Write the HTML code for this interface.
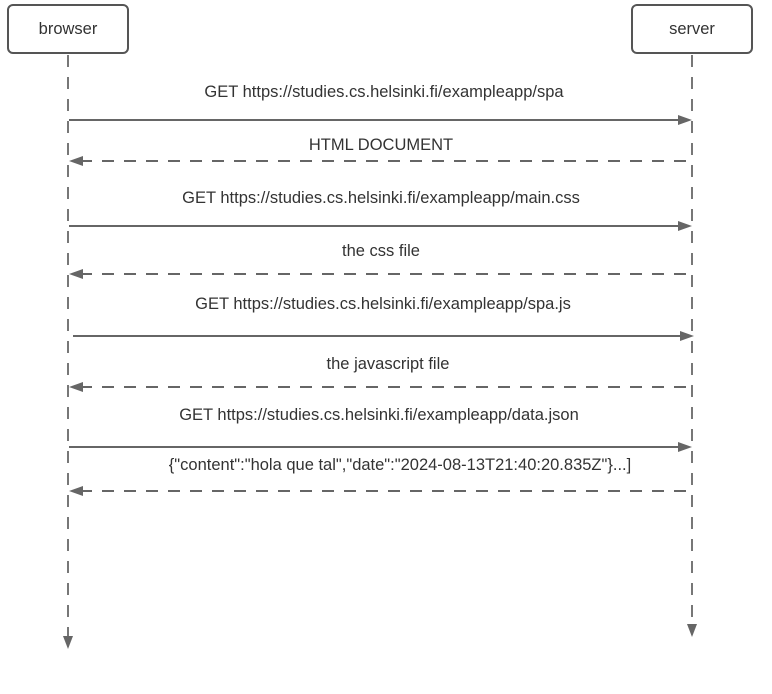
<!DOCTYPE html>
<html><head><meta charset="utf-8"><style>
html,body{margin:0;padding:0;background:#fff;width:772px;height:694px;overflow:hidden}
text{font-family:"Liberation Sans",Arial,sans-serif;font-size:16.5px;fill:#333}
</style></head><body>
<svg width="772" height="694" viewBox="0 0 772 694" xmlns="http://www.w3.org/2000/svg">
<g fill="#fff" stroke="#555" stroke-width="2">
<rect x="8" y="5" width="120" height="48" rx="5"/>
<rect x="632" y="5" width="120" height="48" rx="5"/>
</g>
<text x="68" y="34" text-anchor="middle">browser</text>
<text x="692" y="34" text-anchor="middle">server</text>
<g stroke="#777" stroke-width="2" stroke-dasharray="12 10">
<line x1="68" y1="55" x2="68" y2="638"/>
<line x1="692" y1="55" x2="692" y2="626"/>
</g>
<g fill="#666">
<polygon points="63,636 73,636 68,649"/>
<polygon points="687,624 697,624 692,637"/>
</g>
<g stroke="#666" stroke-width="2">
<line x1="69" y1="120" x2="680" y2="120"/>
<line x1="69" y1="226" x2="680" y2="226"/>
<line x1="73" y1="336" x2="682" y2="336"/>
<line x1="69" y1="447" x2="680" y2="447"/>
</g>
<g stroke="#666" stroke-width="2" stroke-dasharray="12 10">
<polyline fill="none" points="80,161 692,161"/>
<polyline fill="none" points="80,274 692,274"/>
<polyline fill="none" points="80,387 692,387"/>
<polyline fill="none" points="80,491 692,491"/>
</g>
<g fill="#666">
<polygon points="692,120 678,115 678,125"/>
<polygon points="692,226 678,221 678,231"/>
<polygon points="694,336 680,331 680,341"/>
<polygon points="692,447 678,442 678,452"/>
<polygon points="69,161 83,156 83,166"/>
<polygon points="69,274 83,269 83,279"/>
<polygon points="69,387 83,382 83,392"/>
<polygon points="69,491 83,486 83,496"/>
</g>
<text x="384" y="97" text-anchor="middle">GET https://studies.cs.helsinki.fi/exampleapp/spa</text>
<text x="381" y="150" text-anchor="middle">HTML DOCUMENT</text>
<text x="381" y="203" text-anchor="middle">GET https://studies.cs.helsinki.fi/exampleapp/main.css</text>
<text x="381" y="256" text-anchor="middle">the css file</text>
<text x="383" y="309" text-anchor="middle">GET https://studies.cs.helsinki.fi/exampleapp/spa.js</text>
<text x="388" y="369" text-anchor="middle">the javascript file</text>
<text x="379" y="420" text-anchor="middle">GET https://studies.cs.helsinki.fi/exampleapp/data.json</text>
<text x="400" y="470" text-anchor="middle">{"content":"hola que tal","date":"2024-08-13T21:40:20.835Z"}...]</text>
</svg>
</body></html>
